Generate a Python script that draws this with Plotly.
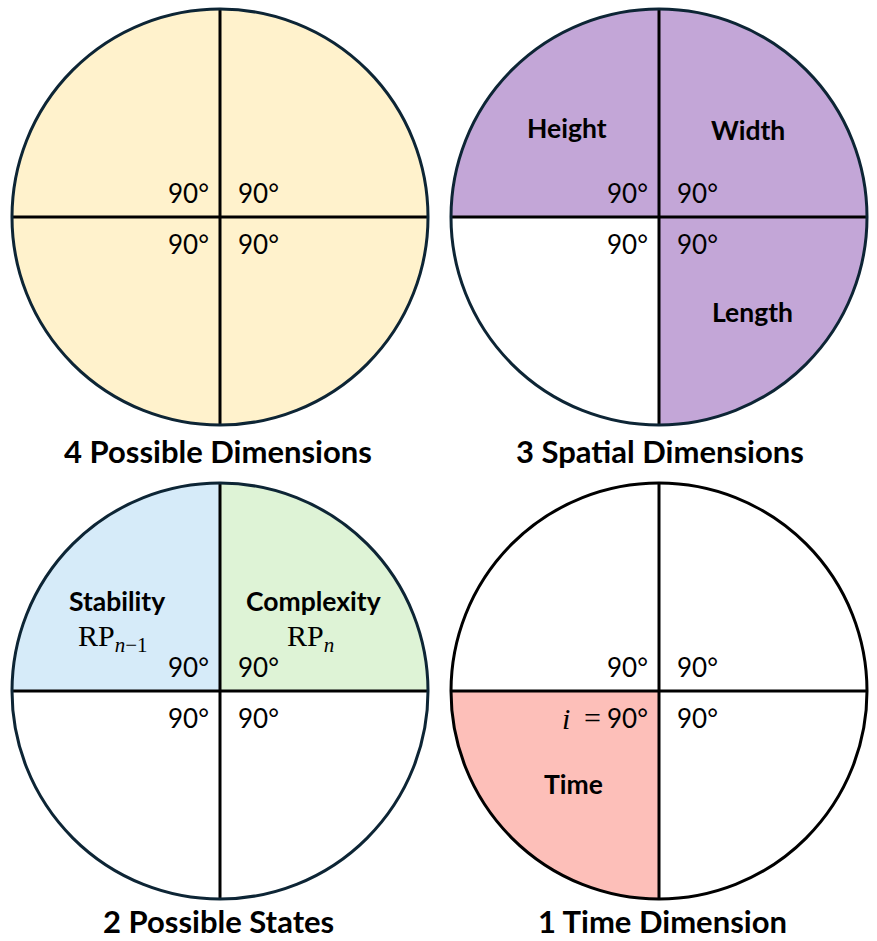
import plotly.graph_objects as go

# ---------------- data ----------------
panel_titles = ["4 Possible Dimensions", "3 Spatial Dimensions",
                "2 Possible States", "1 Time Dimension"]
quadrant_theta = [45, 135, 225, 315]          # TR, TL, BL, BR
quadrant_width = [90, 90, 90, 90]
quadrant_r = [1, 1, 1, 1]

YELLOW = "#FFF2CC"
PURPLE = "#C3A6D7"
BLUE = "#D6EBF9"
GREEN = "#DEF3D6"
PINK = "#FDBFB9"
WHITE = "#FFFFFF"

panel_fills = [
    [YELLOW, YELLOW, YELLOW, YELLOW],
    [PURPLE, PURPLE, WHITE, PURPLE],
    [GREEN, BLUE, WHITE, WHITE],
    [WHITE, WHITE, PINK, WHITE],
]
panel_outline = ["#0D2535", "#0D2535", "#0D2535", "#000000"]

angle_labels = [
    ["90°", "90°", "90°", "90°"],
    ["90°", "90°", "90°", "90°"],
    ["90°", "90°", "90°", "90°"],
    ["90°", "90°", "90°", "90°"],
]

# quadrant names: (panel, text, x px, y px)
quadrant_names = [
    (1, "Height", 567, 128),
    (1, "Width", 748, 130),
    (1, "Length", 752, 312),
    (2, "Stability", 117, 601),
    (2, "Complexity", 313, 601),
    (3, "Time", 573, 784),
]
math_labels = [
    (2, "RP<sub><i>n</i>−1</sub>", 113, 638),
    (2, "RP<sub><i>n</i></sub>", 310, 638),
    (3, "<i>i</i>", 566, 718),
    (3, "=", 592, 717),
]

# ---------------- layout geometry ----------------
W, H = 877, 941
centers = [(220, 217), (659, 217), (220, 691), (659, 691)]
R = 208
title_pos = [(218, 451, "middle"), (660, 451, "middle"),
             (218, 941, "bottom"), (662, 941, "bottom")]


def px(x):
    return x / W


def py(y):
    return 1 - y / H


fig = go.Figure()
layout_polars = {}
annotations = []

for i in range(4):
    cx, cy = centers[i]
    pname = "polar" if i == 0 else f"polar{i+1}"
    fig.add_trace(go.Barpolar(
        r=quadrant_r, theta=quadrant_theta, width=quadrant_width,
        marker=dict(color=panel_fills[i], line=dict(width=0)),
        subplot=pname, showlegend=False, hoverinfo="skip"))
    fig.add_trace(go.Scatterpolar(
        r=[1, 0, 1, None, 1, 0, 1],
        theta=[90, 0, 270, None, 0, 0, 180],
        mode="lines", line=dict(color="black", width=3),
        subplot=pname, showlegend=False, hoverinfo="skip"))
    layout_polars[pname] = dict(
        domain=dict(x=[px(cx - R), px(cx + R)], y=[py(cy + R), py(cy - R)]),
        bgcolor="white",
        radialaxis=dict(range=[0, 1], visible=False, showgrid=False),
        angularaxis=dict(showline=True, linewidth=3, linecolor=panel_outline[i],
                         showgrid=False, showticklabels=False, ticks="",
                         rotation=0, direction="counterclockwise"),
    )
    # angle labels
    labels = angle_labels[i]
    spots = [  # TR, TL, BL, BR
        (cx + 16, cy - 24, "left"),
        (cx - 9, cy - 24, "right"),
        (cx - 9, cy + 27, "right"),
        (cx + 16, cy + 27, "left"),
    ]
    for lab, (x, y, anc) in zip(labels, spots):
        annotations.append(dict(
            x=px(x), y=py(y), xref="paper", yref="paper", text=lab,
            showarrow=False, xanchor=anc, yanchor="middle",
            font=dict(family="Lato", size=26, color="black")))
    # panel title
    tx, ty, yanc = title_pos[i]
    annotations.append(dict(
        x=px(tx), y=py(ty), xref="paper", yref="paper",
        text=f"<b>{panel_titles[i]}</b>", showarrow=False,
        xanchor="center", yanchor=yanc, borderpad=0,
        font=dict(family="Lato", size=31, color="black")))

for p, txt, x, y in quadrant_names:
    annotations.append(dict(
        x=px(x), y=py(y), xref="paper", yref="paper", text=f"<b>{txt}</b>",
        showarrow=False, xanchor="center", yanchor="middle",
        font=dict(family="Lato", size=26.5, color="black")))

for p, txt, x, y in math_labels:
    annotations.append(dict(
        x=px(x), y=py(y), xref="paper", yref="paper", text=txt,
        showarrow=False, xanchor="center", yanchor="middle",
        font=dict(family="Liberation Serif", size=30, color="black")))

fig.update_layout(
    width=W, height=H,
    margin=dict(l=0, r=0, t=0, b=0),
    paper_bgcolor="white",
    annotations=annotations,
    showlegend=False,
    **layout_polars,
)

fig.write_html(
    "out.html",
    config={"displayModeBar": False},
    post_script="document.body.style.margin='0';document.body.style.overflow='hidden';",
)
